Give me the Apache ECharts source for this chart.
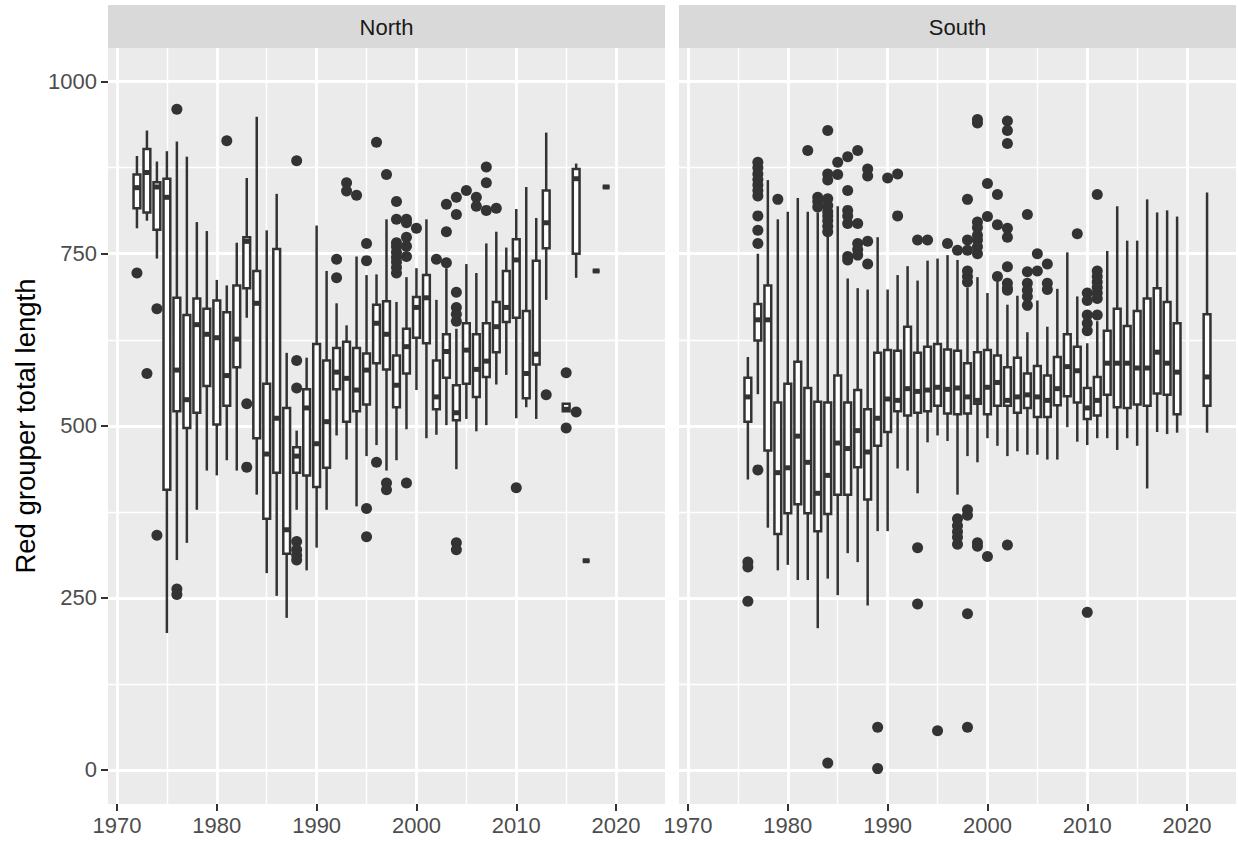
<!DOCTYPE html>
<html>
<head>
<meta charset="utf-8">
<script src="https://cdn.jsdelivr.net/npm/echarts@6/dist/echarts.min.js"></script>
<style>html,body{margin:0;padding:0;background:#fff}#c{width:1238px;height:843px}</style>
</head>
<body>
<div id="c"></div>
<script>
// ---- data ----
const panelNames = ['North', 'South'];
const xTicks = [1970, 1980, 1990, 2000, 2010, 2020];
const xMinorTicks = [1975, 1985, 1995, 2005, 2015];
const yTicks = [0, 250, 500, 750, 1000];
const yMinorTicks = [125, 375, 625, 875];
const yTitle = 'Red grouper total length';

// [year, lower whisker, Q1, median, Q3, upper whisker]
const northBoxStats = [
  [1972, 787, 816, 846, 865, 892],
  [1973, 798, 810, 868, 902, 929],
  [1974, 743, 785, 847, 854, 884],
  [1975, 199, 407, 832, 859, 899],
  [1976, 305, 521, 581, 686, 913],
  [1977, 330, 497, 538, 661, 891],
  [1978, 378, 519, 647, 685, 796],
  [1979, 435, 558, 633, 670, 783],
  [1980, 428, 502, 628, 682, 712],
  [1981, 450, 529, 573, 665, 704],
  [1982, 435, 585, 626, 704, 766],
  [1983, 657, 700, 768, 774, 860],
  [1984, 400, 482, 678, 725, 949],
  [1985, 286, 365, 459, 561, 784],
  [1986, 253, 432, 511, 757, 837],
  [1987, 221, 314, 349, 526, 606],
  [1988, 378, 432, 456, 469, 493],
  [1989, 290, 428, 526, 553, 599],
  [1990, 323, 411, 474, 619, 791],
  [1991, 378, 439, 506, 595, 725],
  [1992, 486, 553, 578, 613, 678],
  [1993, 451, 506, 569, 622, 646],
  [1994, 383, 521, 552, 613, 746],
  [1995, 456, 531, 581, 605, 719],
  [1996, 472, 591, 649, 676, 720],
  [1997, 435, 582, 633, 681, 800],
  [1998, 450, 527, 559, 602, 680],
  [1999, 495, 576, 615, 641, 716],
  [2000, 552, 628, 672, 687, 729],
  [2001, 482, 620, 686, 719, 800],
  [2002, 487, 524, 542, 595, 683],
  [2003, 501, 570, 608, 633, 729],
  [2004, 437, 508, 519, 559, 641],
  [2005, 510, 561, 610, 649, 735],
  [2006, 492, 542, 582, 633, 722],
  [2007, 501, 571, 594, 649, 765],
  [2008, 560, 607, 644, 680, 782],
  [2009, 574, 651, 672, 725, 759],
  [2010, 511, 657, 741, 771, 815],
  [2011, 527, 540, 576, 667, 847],
  [2012, 510, 589, 604, 740, 802],
  [2013, 683, 758, 795, 842, 926],
  [2015, 521, 521, 524, 532, 532],
  [2016, 715, 750, 859, 873, 881],
  [2017, 304, 304, 304, 304, 304],
  [2018, 725, 725, 725, 725, 725],
  [2019, 847, 847, 847, 847, 847]
];
const northOutliers = [
  [1972, [722]],
  [1973, [576]],
  [1974, [670, 341]],
  [1976, [960, 263, 255]],
  [1981, [914]],
  [1983, [532, 440]],
  [1988, [885, 595, 555, 332, 320, 312, 305]],
  [1992, [742, 715]],
  [1993, [853, 841]],
  [1994, [835]],
  [1995, [765, 740, 380, 339]],
  [1996, [912, 447]],
  [1997, [865, 417, 407]],
  [1998, [826, 800, 766, 760, 752, 745, 738, 730, 722]],
  [1999, [800, 795, 774, 761, 746, 417]],
  [2000, [787]],
  [2002, [742]],
  [2003, [822, 782, 737]],
  [2004, [832, 807, 694, 672, 662, 652, 330, 320]],
  [2005, [842]],
  [2006, [832, 819]],
  [2007, [876, 853, 813]],
  [2008, [816]],
  [2010, [410]],
  [2013, [545]],
  [2015, [577, 497]],
  [2016, [520]]
];

const southBoxStats = [
  [1976, 422, 506, 542, 570, 600],
  [1977, 546, 624, 654, 677, 750],
  [1978, 352, 464, 654, 704, 857],
  [1979, 290, 343, 432, 534, 800],
  [1980, 298, 373, 439, 561, 811],
  [1981, 276, 386, 485, 593, 831],
  [1982, 276, 373, 447, 555, 811],
  [1983, 206, 347, 402, 535, 810],
  [1984, 278, 372, 428, 534, 782],
  [1985, 254, 400, 475, 573, 819],
  [1986, 315, 400, 467, 534, 714],
  [1987, 302, 440, 493, 552, 700],
  [1988, 239, 393, 462, 524, 698],
  [1989, 347, 471, 511, 606, 774],
  [1990, 347, 491, 539, 610, 698],
  [1991, 438, 521, 537, 609, 719],
  [1992, 435, 515, 554, 644, 732],
  [1993, 402, 519, 550, 606, 711],
  [1994, 476, 521, 552, 615, 740],
  [1995, 486, 529, 556, 619, 743],
  [1996, 478, 518, 553, 611, 748],
  [1997, 400, 517, 555, 609, 741],
  [1998, 456, 518, 542, 591, 701],
  [1999, 447, 532, 537, 607, 716],
  [2000, 482, 517, 556, 610, 693],
  [2001, 471, 529, 563, 602, 709],
  [2002, 456, 529, 537, 585, 676],
  [2003, 463, 519, 542, 599, 689],
  [2004, 458, 526, 545, 576, 636],
  [2005, 458, 513, 542, 587, 682],
  [2006, 451, 513, 537, 573, 644],
  [2007, 451, 530, 554, 600, 699],
  [2008, 498, 543, 586, 633, 752],
  [2009, 477, 534, 580, 615, 688],
  [2010, 472, 510, 526, 555, 620],
  [2011, 482, 515, 537, 571, 652],
  [2012, 482, 545, 591, 638, 754],
  [2013, 465, 527, 591, 670, 819],
  [2014, 482, 526, 591, 645, 769],
  [2015, 471, 531, 584, 667, 769],
  [2016, 409, 529, 584, 685, 829],
  [2017, 491, 547, 607, 700, 810],
  [2018, 488, 545, 591, 680, 813],
  [2019, 490, 517, 578, 649, 804],
  [2022, 490, 529, 571, 662, 839]
];
const southOutliers = [
  [1976, [302, 295, 245]],
  [1977, [883, 875, 866, 858, 850, 842, 834, 805, 784, 765, 436]],
  [1979, [829]],
  [1982, [900]],
  [1983, [832, 826, 818]],
  [1984, [929, 866, 857, 830, 820, 811, 805, 798, 790, 782, 10]],
  [1985, [883, 865]],
  [1986, [891, 842, 813, 805, 794, 746, 741]],
  [1987, [900, 794, 765, 756, 748]],
  [1988, [873, 863, 768, 735]],
  [1989, [62, 2]],
  [1990, [860]],
  [1991, [866, 805]],
  [1993, [770, 323, 241]],
  [1994, [770]],
  [1995, [57]],
  [1996, [765]],
  [1997, [755, 365, 355, 346, 338, 328]],
  [1998, [829, 770, 755, 725, 717, 709, 378, 370, 227, 62]],
  [1999, [945, 940, 796, 788, 777, 770, 760, 750, 330, 325]],
  [2000, [852, 804, 310]],
  [2001, [836, 792, 717]],
  [2002, [943, 929, 910, 787, 774, 731, 707, 700, 697, 327]],
  [2004, [807, 724, 707, 697, 688, 675]],
  [2005, [750, 725]],
  [2006, [735, 707, 698]],
  [2009, [779]],
  [2010, [693, 682, 661, 649, 638, 229]],
  [2011, [836, 725, 717, 709, 701, 693, 685, 661]]
];

// ---- chart ----
const FONT = '"Liberation Sans", Arial, Helvetica, sans-serif';
const INK = '#333333';
const X_MIN = 1969.1, X_MAX = 2024.9;
const Y_MIN = -49.4, Y_MAX = 1048.9;
const BOX_WIDTH = 0.68; // in x units (years)

const panels = [
  { left: 108, top: 48, width: 557, height: 756 },
  { left: 679, top: 48, width: 557, height: 756 }
];

function flattenOutliers(list) {
  const out = [];
  list.forEach(([yr, vals]) => vals.forEach(v => out.push([yr, v])));
  return out;
}

function renderBox(params, api) {
  const x = api.value(0);
  const lo = api.coord([x, api.value(1)]);
  const q1 = api.coord([x, api.value(2)]);
  const md = api.coord([x, api.value(3)]);
  const q3 = api.coord([x, api.value(4)]);
  const hi = api.coord([x, api.value(5)]);
  const w = api.size([BOX_WIDTH, 0])[0];
  const cx = md[0];
  const thin = { stroke: INK, lineWidth: 2.5, fill: null };
  return {
    type: 'group',
    children: [
      { type: 'line', shape: { x1: cx, y1: hi[1], x2: cx, y2: q3[1] }, style: thin },
      { type: 'line', shape: { x1: cx, y1: q1[1], x2: cx, y2: lo[1] }, style: thin },
      { type: 'rect', shape: { x: cx - w / 2, y: q3[1], width: w, height: q1[1] - q3[1] },
        style: { fill: '#ffffff', stroke: INK, lineWidth: 2.5 } },
      { type: 'line', shape: { x1: cx - w / 2, y1: md[1], x2: cx + w / 2, y2: md[1] },
        style: { stroke: INK, lineWidth: 5, lineCap: 'butt' } }
    ]
  };
}

const chart = echarts.init(document.getElementById('c'), null, { renderer: 'svg', width: 1238, height: 843 });

const grids = panels.map(p => ({
  left: p.left, top: p.top, width: p.width, height: p.height,
  show: true, backgroundColor: '#EBEBEB', borderWidth: 0, containLabel: false
}));

const xAxes = [];
const yAxes = [];
// main axes (index 0,1)
panels.forEach((p, i) => {
  xAxes.push({
    type: 'value', gridIndex: i, min: X_MIN, max: X_MAX, position: 'bottom',
    axisLine: { show: false, onZero: false },
    axisTick: { show: true, length: 7, customValues: xTicks, lineStyle: { color: INK, width: 2 } },
    axisLabel: { show: true, customValues: xTicks, color: '#4D4D4D', fontSize: 22, fontFamily: FONT, margin: 10,
      formatter: v => String(v) },
    splitLine: { show: true, lineStyle: { color: '#FFFFFF', width: 2.8 } },
    minorSplitLine: { show: false }
  });
  yAxes.push({
    type: 'value', gridIndex: i, min: Y_MIN, max: Y_MAX, position: 'left',
    axisLine: { show: false, onZero: false },
    axisTick: { show: i === 0, length: 7, customValues: yTicks, lineStyle: { color: INK, width: 2 } },
    axisLabel: { show: i === 0, customValues: yTicks, color: '#4D4D4D', fontSize: 22, fontFamily: FONT, margin: 11,
      formatter: v => String(v) },
    splitLine: { show: true, lineStyle: { color: '#FFFFFF', width: 2.8 } },
    name: i === 0 ? yTitle : '',
    nameLocation: 'middle', nameGap: 69, nameMoveOverlap: false,
    nameTextStyle: { color: '#000000', fontSize: 27.5, fontFamily: FONT }
  });
});
// minor axes (index 2,3) for the thin grid lines
panels.forEach((p, i) => {
  xAxes.push({
    type: 'value', gridIndex: i, min: X_MIN, max: X_MAX, position: 'top',
    axisLine: { show: false, onZero: false },
    axisTick: { show: false, customValues: xMinorTicks },
    axisLabel: { show: false, customValues: xMinorTicks },
    splitLine: { show: true, lineStyle: { color: '#FFFFFF', width: 1.4 } }
  });
  yAxes.push({
    type: 'value', gridIndex: i, min: Y_MIN, max: Y_MAX, position: 'right',
    axisLine: { show: false, onZero: false },
    axisTick: { show: false, customValues: yMinorTicks },
    axisLabel: { show: false, customValues: yMinorTicks },
    splitLine: { show: true, lineStyle: { color: '#FFFFFF', width: 1.4 } }
  });
});

const boxSets = [northBoxStats, southBoxStats];
const outlierSets = [northOutliers, southOutliers];
const series = [];
panels.forEach((p, i) => {
  series.push({
    type: 'scatter', xAxisIndex: i, yAxisIndex: i, z: 3,
    symbol: 'circle', symbolSize: 11,
    itemStyle: { color: INK, opacity: 1 },
    data: flattenOutliers(outlierSets[i]),
    silent: true
  });
  series.push({
    type: 'custom', xAxisIndex: i, yAxisIndex: i, z: 4,
    renderItem: renderBox,
    encode: { x: 0, y: [1, 2, 3, 4, 5] },
    data: boxSets[i],
    silent: true
  });
});

const graphics = [];
panels.forEach((p, i) => {
  graphics.push({
    type: 'rect', shape: { x: p.left, y: 5, width: p.width, height: 43 },
    style: { fill: '#D9D9D9' }, silent: true, z: 0
  });
  graphics.push({
    type: 'text', x: p.left + p.width / 2, y: 27,
    style: { text: panelNames[i], fill: '#1A1A1A', fontSize: 22, fontFamily: FONT,
      textAlign: 'center', textVerticalAlign: 'middle' },
    silent: true, z: 1
  });
});

chart.setOption({
  animation: false,
  backgroundColor: '#FFFFFF',
  grid: grids,
  xAxis: xAxes,
  yAxis: yAxes,
  series: series,
  graphic: graphics
});
</script>
</body>
</html>
